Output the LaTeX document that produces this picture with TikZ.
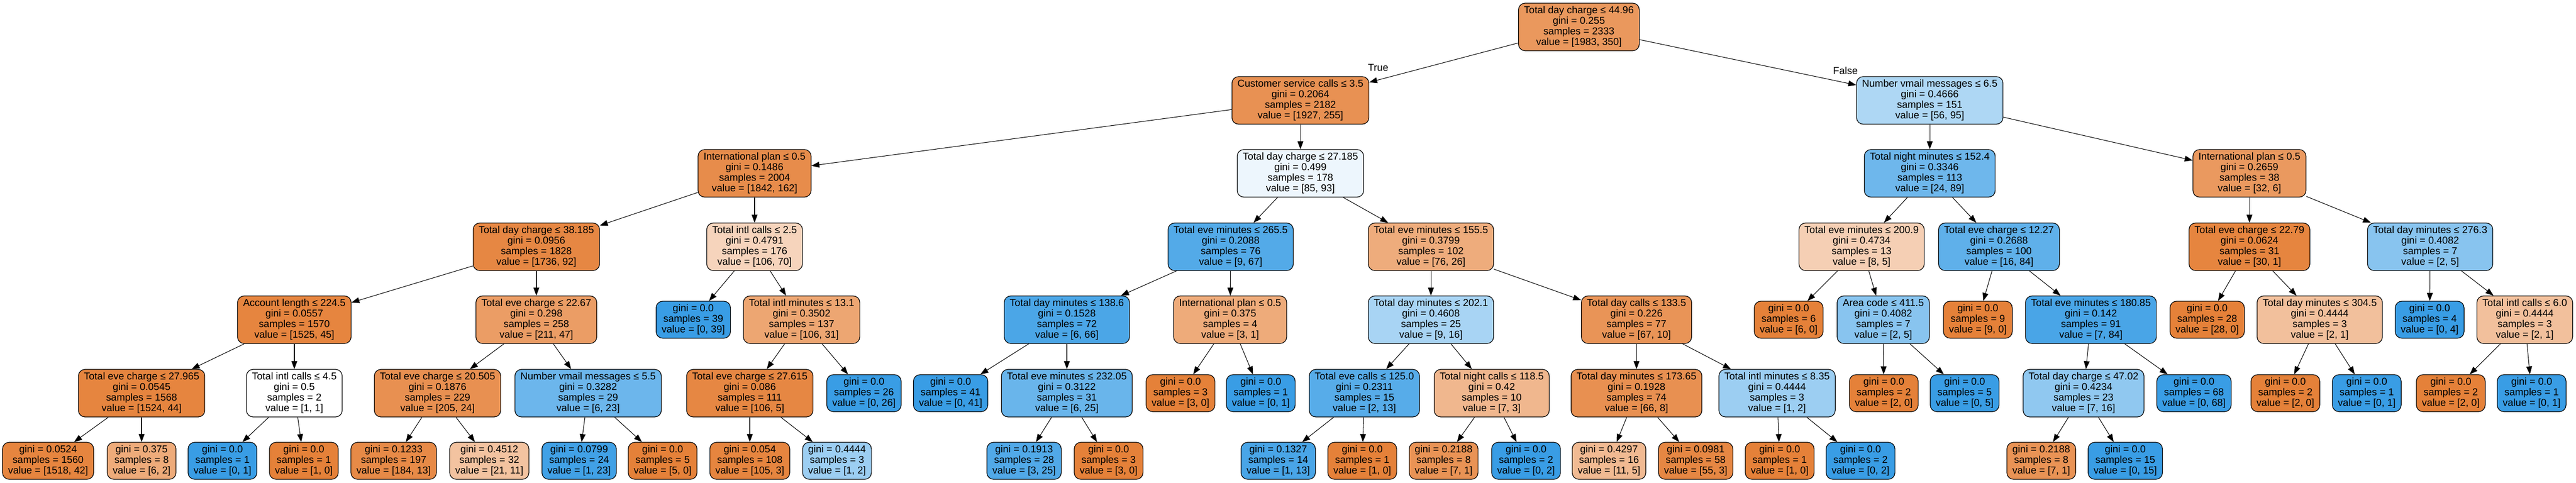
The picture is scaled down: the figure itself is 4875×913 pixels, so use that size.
\documentclass[tikz,border=0pt]{standalone}
\usepackage{fontspec}
\setmainfont{Liberation Sans}
\usepackage{tikz}
\usetikzlibrary{arrows.meta}
\definecolor{orangecls}{RGB}{229,129,57}
\definecolor{bluecls}{RGB}{57,157,229}
\tikzset{
    % Two node styles for the tree: split and leaf
    split node/.style={draw,rounded corners=0.25cm,align=center,line width=0.7pt,inner xsep=0.21cm,inner ysep=0.05cm,minimum height=1.8cm}, leaf node/.style={split node,minimum height=1.4cm},
    arr/.style={-{Triangle[length=0.3cm,width=0.22cm]},line width=0.6pt}
    }

\begin{document}
\begin{tikzpicture}[x=0.02cm,y=-0.02cm,font=\fontsize{10.8}{11.4}\selectfont] % one unit is one pixel
    \useasboundingbox (0,0) rectangle (4875,913);
    % True branch
    \node(0)[split node,fill=orangecls!82]at(2988,51){Total day charge ≤ 44.96\\gini = 0.255\\samples = 2333\\value = [1983, 350]};
    \node(1)[split node,fill=orangecls!87]at(2461,190){Customer service calls ≤ 3.5\\gini = 0.2064\\samples = 2182\\value = [1927, 255]};
    \node(2)[split node,fill=orangecls!91]at(1428,328){International plan ≤ 0.5\\gini = 0.1486\\samples = 2004\\value = [1842, 162]};
    \node(3)[split node,fill=orangecls!95]at(1015,467){Total day charge ≤ 38.185\\gini = 0.0956\\samples = 1828\\value = [1736, 92]};
    \node(4)[split node,fill=orangecls!97]at(557,605){Account length ≤ 224.5\\gini = 0.0557\\samples = 1570\\value = [1525, 45]};
    \node(5)[split node,fill=orangecls!97]at(268,744){Total eve charge ≤ 27.965\\gini = 0.0545\\samples = 1568\\value = [1524, 44]};
    \node(6)[leaf node,fill=orangecls!97]at(91,872){gini = 0.0524\\samples = 1560\\value = [1518, 42]};
    \node(7)[leaf node,fill=orangecls!67]at(268,872){gini = 0.375\\samples = 8\\value = [6, 2]};
    \node(8)[split node,fill=white]at(557,744){Total intl calls ≤ 4.5\\gini = 0.5\\samples = 2\\value = [1, 1]};
    \node(9)[leaf node,fill=bluecls]at(421,872){gini = 0.0\\samples = 1\\value = [0, 1]};
    \node(10)[leaf node,fill=orangecls]at(575,872){gini = 0.0\\samples = 1\\value = [1, 0]};
    \node(11)[split node,fill=orangecls!78]at(1015,605){Total eve charge ≤ 22.67\\gini = 0.298\\samples = 258\\value = [211, 47]};
    \node(12)[split node,fill=orangecls!88]at(828,744){Total eve charge ≤ 20.505\\gini = 0.1876\\samples = 229\\value = [205, 24]};
    \node(13)[leaf node,fill=orangecls!93]at(745,872){gini = 0.1233\\samples = 197\\value = [184, 13]};
    \node(14)[leaf node,fill=orangecls!48]at(926,872){gini = 0.4512\\samples = 32\\value = [21, 11]};
    \node(15)[split node,fill=bluecls!74]at(1113,744){Number vmail messages ≤ 5.5\\gini = 0.3282\\samples = 29\\value = [6, 23]};
    \node(16)[leaf node,fill=bluecls!96]at(1096,872){gini = 0.0799\\samples = 24\\value = [1, 23]};
    \node(17)[leaf node,fill=orangecls]at(1254,872){gini = 0.0\\samples = 5\\value = [5, 0]};
    \node(18)[split node,fill=orangecls!34]at(1428,467){Total intl calls ≤ 2.5\\gini = 0.4791\\samples = 176\\value = [106, 70]};
    \node(19)[leaf node,fill=bluecls]at(1312,605){gini = 0.0\\samples = 39\\value = [0, 39]};
    \node(20)[split node,fill=orangecls!71]at(1517,605){Total intl minutes ≤ 13.1\\gini = 0.3502\\samples = 137\\value = [106, 31]};
    \node(21)[split node,fill=orangecls!95]at(1419,744){Total eve charge ≤ 27.615\\gini = 0.086\\samples = 111\\value = [106, 5]};
    \node(22)[leaf node,fill=orangecls!97]at(1419,872){gini = 0.054\\samples = 108\\value = [105, 3]};
    \node(23)[leaf node,fill=bluecls!50]at(1584,872){gini = 0.4444\\samples = 3\\value = [1, 2]};
    \node(24)[leaf node,fill=bluecls]at(1635,744){gini = 0.0\\samples = 26\\value = [0, 26]};
    \node(25)[split node,fill=bluecls!9]at(2461,328){Total day charge ≤ 27.185\\gini = 0.499\\samples = 178\\value = [85, 93]};
    \node(26)[split node,fill=bluecls!87]at(2329,467){Total eve minutes ≤ 265.5\\gini = 0.2088\\samples = 76\\value = [9, 67]};
    \node(27)[split node,fill=bluecls!91]at(2019,605){Total day minutes ≤ 138.6\\gini = 0.1528\\samples = 72\\value = [6, 66]};
    \node(28)[leaf node,fill=bluecls]at(1799,744){gini = 0.0\\samples = 41\\value = [0, 41]};
    \node(29)[split node,fill=bluecls!76]at(2019,744){Total eve minutes ≤ 232.05\\gini = 0.3122\\samples = 31\\value = [6, 25]};
    \node(30)[leaf node,fill=bluecls!88]at(1938,872){gini = 0.1913\\samples = 28\\value = [3, 25]};
    \node(31)[leaf node,fill=orangecls]at(2098,872){gini = 0.0\\samples = 3\\value = [3, 0]};
    \node(32)[split node,fill=orangecls!67]at(2328,605){International plan ≤ 0.5\\gini = 0.375\\samples = 4\\value = [3, 1]};
    \node(33)[leaf node,fill=orangecls]at(2234,744){gini = 0.0\\samples = 3\\value = [3, 0]};
    \node(34)[leaf node,fill=bluecls]at(2386,744){gini = 0.0\\samples = 1\\value = [0, 1]};
    \node(35)[split node,fill=orangecls!66]at(2708,467){Total eve minutes ≤ 155.5\\gini = 0.3799\\samples = 102\\value = [76, 26]};
    \node(36)[split node,fill=bluecls!44]at(2708,605){Total day minutes ≤ 202.1\\gini = 0.4608\\samples = 25\\value = [9, 16]};
    \node(37)[split node,fill=bluecls!85]at(2582,744){Total eve calls ≤ 125.0\\gini = 0.2311\\samples = 15\\value = [2, 13]};
    \node(38)[leaf node,fill=bluecls!92]at(2419,872){gini = 0.1327\\samples = 14\\value = [1, 13]};
    \node(39)[leaf node,fill=orangecls]at(2578,872){gini = 0.0\\samples = 1\\value = [1, 0]};
    \node(40)[split node,fill=orangecls!57]at(2823,744){Total night calls ≤ 118.5\\gini = 0.42\\samples = 10\\value = [7, 3]};
    \node(41)[leaf node,fill=orangecls!86]at(2732,872){gini = 0.2188\\samples = 8\\value = [7, 1]};
    \node(42)[leaf node,fill=bluecls]at(2888,872){gini = 0.0\\samples = 2\\value = [0, 2]};
    \node(43)[split node,fill=orangecls!85]at(3097,605){Total day calls ≤ 133.5\\gini = 0.226\\samples = 77\\value = [67, 10]};
    \node(44)[split node,fill=orangecls!88]at(3097,744){Total day minutes ≤ 173.65\\gini = 0.1928\\samples = 74\\value = [66, 8]};
    \node(45)[leaf node,fill=orangecls!55]at(3045,872){gini = 0.4297\\samples = 16\\value = [11, 5]};
    \node(46)[leaf node,fill=orangecls!95]at(3209,872){gini = 0.0981\\samples = 58\\value = [55, 3]};
    \node(47)[split node,fill=bluecls!50]at(3363,744){Total intl minutes ≤ 8.35\\gini = 0.4444\\samples = 3\\value = [1, 2]};
    \node(48)[leaf node,fill=orangecls]at(3368,872){gini = 0.0\\samples = 1\\value = [1, 0]};
    \node(49)[leaf node,fill=bluecls]at(3521,872){gini = 0.0\\samples = 2\\value = [0, 2]};
    % False branch
    \node(50)[split node,fill=bluecls!41]at(3652,190){Number vmail messages ≤ 6.5\\gini = 0.4666\\samples = 151\\value = [56, 95]};
    \node(51)[split node,fill=bluecls!73]at(3652,328){Total night minutes ≤ 152.4\\gini = 0.3346\\samples = 113\\value = [24, 89]};
    \node(52)[split node,fill=orangecls!38]at(3523,467){Total eve minutes ≤ 200.9\\gini = 0.4734\\samples = 13\\value = [8, 5]};
    \node(53)[leaf node,fill=orangecls]at(3385,605){gini = 0.0\\samples = 6\\value = [6, 0]};
    \node(54)[split node,fill=bluecls!60]at(3564,605){Area code ≤ 411.5\\gini = 0.4082\\samples = 7\\value = [2, 5]};
    \node(55)[leaf node,fill=orangecls]at(3565,744){gini = 0.0\\samples = 2\\value = [2, 0]};
    \node(56)[leaf node,fill=bluecls]at(3718,744){gini = 0.0\\samples = 5\\value = [0, 5]};
    \node(57)[split node,fill=bluecls!81]at(3783,467){Total eve charge ≤ 12.27\\gini = 0.2688\\samples = 100\\value = [16, 84]};
    \node(58)[leaf node,fill=orangecls]at(3743,605){gini = 0.0\\samples = 9\\value = [9, 0]};
    \node(59)[split node,fill=bluecls!92]at(3957,605){Total eve minutes ≤ 180.85\\gini = 0.142\\samples = 91\\value = [7, 84]};
    \node(60)[split node,fill=bluecls!56]at(3943,744){Total day charge ≤ 47.02\\gini = 0.4234\\samples = 23\\value = [7, 16]};
    \node(61)[leaf node,fill=orangecls!86]at(3863,872){gini = 0.2188\\samples = 8\\value = [7, 1]};
    \node(62)[leaf node,fill=bluecls]at(4022,872){gini = 0.0\\samples = 15\\value = [0, 15]};
    \node(63)[leaf node,fill=bluecls]at(4152,744){gini = 0.0\\samples = 68\\value = [0, 68]};
    \node(64)[split node,fill=orangecls!81]at(4257,328){International plan ≤ 0.5\\gini = 0.2659\\samples = 38\\value = [32, 6]};
    \node(65)[split node,fill=orangecls!97]at(4257,467){Total eve charge ≤ 22.79\\gini = 0.0624\\samples = 31\\value = [30, 1]};
    \node(66)[leaf node,fill=orangecls]at(4177,605){gini = 0.0\\samples = 28\\value = [28, 0]};
    \node(67)[split node,fill=orangecls!50]at(4390,605){Total day minutes ≤ 304.5\\gini = 0.4444\\samples = 3\\value = [2, 1]};
    \node(68)[leaf node,fill=orangecls]at(4325,744){gini = 0.0\\samples = 2\\value = [2, 0]};
    \node(69)[leaf node,fill=bluecls]at(4479,744){gini = 0.0\\samples = 1\\value = [0, 1]};
    \node(70)[split node,fill=bluecls!60]at(4599,467){Total day minutes ≤ 276.3\\gini = 0.4082\\samples = 7\\value = [2, 5]};
    \node(71)[leaf node,fill=bluecls]at(4598,605){gini = 0.0\\samples = 4\\value = [0, 4]};
    \node(72)[split node,fill=orangecls!50]at(4778,605){Total intl calls ≤ 6.0\\gini = 0.4444\\samples = 3\\value = [2, 1]};
    \node(73)[leaf node,fill=orangecls]at(4638,744){gini = 0.0\\samples = 2\\value = [2, 0]};
    \node(74)[leaf node,fill=bluecls]at(4791,744){gini = 0.0\\samples = 1\\value = [0, 1]};
    % edges, one line per parent
    \path[arr] (0) edge node[pos=0.94,above=0.2cm]{True} (1) edge node[pos=0.95,above=0.2cm]{False} (50);
    \path[arr] (1) edge (2) edge (25); \path[arr] (2) edge (3) edge (18); \path[arr] (3) edge (4) edge (11);
    \path[arr] (4) edge (5) edge (8); \path[arr] (5) edge (6) edge (7); \path[arr] (8) edge (9) edge (10);
    \path[arr] (11) edge (12) edge (15); \path[arr] (12) edge (13) edge (14); \path[arr] (15) edge (16) edge (17);
    \path[arr] (18) edge (19) edge (20); \path[arr] (20) edge (21) edge (24); \path[arr] (21) edge (22) edge (23);
    \path[arr] (25) edge (26) edge (35); \path[arr] (26) edge (27) edge (32); \path[arr] (27) edge (28) edge (29);
    \path[arr] (29) edge (30) edge (31); \path[arr] (32) edge (33) edge (34); \path[arr] (35) edge (36) edge (43);
    \path[arr] (36) edge (37) edge (40); \path[arr] (37) edge (38) edge (39); \path[arr] (40) edge (41) edge (42);
    \path[arr] (43) edge (44) edge (47); \path[arr] (44) edge (45) edge (46); \path[arr] (47) edge (48) edge (49);
    \path[arr] (50) edge (51) edge (64); \path[arr] (51) edge (52) edge (57); \path[arr] (52) edge (53) edge (54);
    \path[arr] (54) edge (55) edge (56); \path[arr] (57) edge (58) edge (59); \path[arr] (59) edge (60) edge (63);
    \path[arr] (60) edge (61) edge (62); \path[arr] (64) edge (65) edge (70); \path[arr] (65) edge (66) edge (67);
    \path[arr] (67) edge (68) edge (69); \path[arr] (70) edge (71) edge (72); \path[arr] (72) edge (73) edge (74);
\end{tikzpicture}
\end{document}
